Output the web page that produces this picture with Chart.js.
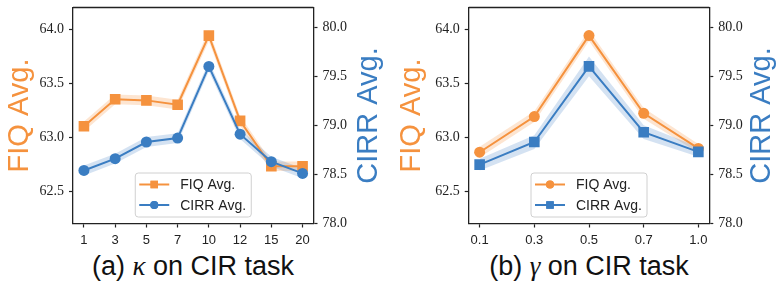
<!DOCTYPE html>
<html>
<head>
<meta charset="utf-8">
<script src="https://cdn.jsdelivr.net/npm/chart.js@4.4.0/dist/chart.umd.min.js"></script>
<style>
  body { margin: 0; background: #fff; width: 783px; height: 285px; overflow: hidden; position: relative; font-family: "Liberation Sans", Arial, sans-serif; }
  .wrap { position: absolute; top: 0; width: 391px; height: 250px; }
  #wrapA { left: 0; }
  #wrapB { left: 392px; }
  .cap { position: absolute; top: 251px; font-size: 27px; color: #111; white-space: nowrap; transform: translateX(-50%); }
  .cap i { font-family: "Liberation Serif", "DejaVu Serif", serif; }
</style>
</head>
<body>
<div class="wrap" id="wrapA"><canvas id="chartA" width="391" height="250"></canvas></div>
<div class="wrap" id="wrapB"><canvas id="chartB" width="391" height="250"></canvas></div>
<div class="cap" style="left:193px">(a) <i>κ</i> on CIR task</div>
<div class="cap" style="left:589px">(b) <i>γ</i> on CIR task</div>
<script>
// valores
const kappaLabels = ['1', '3', '5', '7', '10', '12', '15', '20'];
const kappaFiq = [63.10, 63.35, 63.34, 63.30, 63.94, 63.15, 62.73, 62.73];
const kappaFiqStd = [0.045, 0.045, 0.045, 0.045, 0.05, 0.045, 0.045, 0.045];
const kappaCirr = [78.54, 78.66, 78.83, 78.87, 79.60, 78.91, 78.63, 78.51];
const kappaCirrStd = [0.05, 0.05, 0.05, 0.05, 0.05, 0.05, 0.05, 0.05];

const gammaLabels = ['0.1', '0.3', '0.5', '0.7', '1.0'];
const gammaFiq = [62.86, 63.19, 63.94, 63.22, 62.895];
const gammaFiqStd = [0.05, 0.05, 0.05, 0.05, 0.04];
const gammaCirr = [78.60, 78.83, 79.60, 78.93, 78.73];
const gammaCirrStd = [0.06, 0.07, 0.10, 0.07, 0.05];

const fiqTicks = [62.5, 63.0, 63.5, 64.0];
const cirrTicks = [78.0, 78.5, 79.0, 79.5, 80.0];

const ORANGE = '#F5923E';
const BLUE = '#3A7DC2';
const ORANGE_BAND = 'rgba(245,146,62,0.24)';
const BLUE_BAND = 'rgba(58,125,194,0.22)';
const INK = '#222';

function pts(vals, off) {
  return vals.map((v, i) => ({ x: i, y: v + (off ? off[i] : 0) }));
}
function neg(arr) { return arr.map(v => -v); }

// marco superior, leyenda y titulo derecho
const extras = {
  id: 'extras',
  afterDraw(chart, args, o) {
    const { ctx, chartArea: a } = chart;
    ctx.save();
    ctx.strokeStyle = INK;
    ctx.lineWidth = 1.3;
    ctx.beginPath();
    ctx.moveTo(a.left, a.top);
    ctx.lineTo(a.right, a.top);
    ctx.stroke();

    // leyenda
    const bw = 116, bh = 44;
    const bx = (a.left + a.right) / 2 - bw / 2;
    const by = a.bottom - 6.5 - bh;
    ctx.fillStyle = 'rgba(255,255,255,0.85)';
    ctx.strokeStyle = '#d0d0d0';
    ctx.lineWidth = 1;
    ctx.beginPath();
    ctx.roundRect(bx, by, bw, bh, 3);
    ctx.fill();
    ctx.stroke();
    const rows = [
      { label: 'FIQ Avg.', color: ORANGE, style: o.fiqMarker, y: by + 11.5 },
      { label: 'CIRR Avg.', color: BLUE, style: o.cirrMarker, y: by + 32 }
    ];
    rows.forEach(r => {
      ctx.strokeStyle = r.color;
      ctx.lineWidth = 2;
      ctx.beginPath();
      ctx.moveTo(bx + 4, r.y);
      ctx.lineTo(bx + 34, r.y);
      ctx.stroke();
      ctx.fillStyle = r.color;
      Chart.helpers.drawPoint(ctx, { pointStyle: r.style, radius: r.style === 'rect' ? 5.3 : 4, borderWidth: 0 }, bx + 19, r.y);
      ctx.fill();
      ctx.fillStyle = INK;
      ctx.font = '14px "Liberation Sans", Arial, sans-serif';
      ctx.textBaseline = 'middle';
      ctx.textAlign = 'left';
      ctx.fillText(r.label, bx + 45, r.y + 1);
    });

    // titulo eje derecho (leido de abajo hacia arriba)
    ctx.fillStyle = BLUE;
    ctx.font = '29px "Liberation Sans", Arial, sans-serif';
    ctx.textAlign = 'center';
    ctx.textBaseline = 'middle';
    ctx.translate(o.rightTitleX, (a.top + a.bottom) / 2);
    ctx.rotate(-Math.PI / 2);
    ctx.fillText('CIRR Avg.', 0, 0);
    ctx.restore();
  }
};

function makeChart(id, labels, fiq, fiqStd, cirr, cirrStd, fiqMarker, cirrMarker, area) {
  const n = labels.length;
  const W = 391, H = 250;
  const grid = { drawOnChartArea: false, tickLength: 4, color: INK, tickWidth: 1.2 };
  const border = { color: INK, width: 1.3 };
  const noPad = s => { s.paddingTop = 0; s.paddingBottom = 0; s.paddingLeft = 0; s.paddingRight = 0; };
  return new Chart(document.getElementById(id), {
    type: 'line',
    data: {
      datasets: [
        { data: pts(cirr), yAxisID: 'y2', borderColor: BLUE, backgroundColor: BLUE, borderWidth: 2,
          pointStyle: cirrMarker, pointRadius: cirrMarker === 'rect' ? 7.5 : 5.5, pointBorderWidth: 0, order: 0, fill: false },
        { data: pts(fiq), yAxisID: 'y', borderColor: ORANGE, backgroundColor: ORANGE, borderWidth: 2,
          pointStyle: fiqMarker, pointRadius: fiqMarker === 'rect' ? 7.5 : 5.5, pointBorderWidth: 0, order: 1, fill: false },
        { data: pts(fiq, fiqStd), yAxisID: 'y', borderWidth: 0, pointRadius: 0, fill: '+1', backgroundColor: ORANGE_BAND, order: 3 },
        { data: pts(fiq, neg(fiqStd)), yAxisID: 'y', borderWidth: 0, pointRadius: 0, fill: false, order: 3 },
        { data: pts(cirr, cirrStd), yAxisID: 'y2', borderWidth: 0, pointRadius: 0, fill: '+1', backgroundColor: BLUE_BAND, order: 2 },
        { data: pts(cirr, neg(cirrStd)), yAxisID: 'y2', borderWidth: 0, pointRadius: 0, fill: false, order: 2 }
      ]
    },
    options: {
      responsive: false,
      animation: false,
      devicePixelRatio: 1,
      layout: { padding: { top: area.top, left: 0, right: 0, bottom: 0 } },
      plugins: {
        legend: { display: false },
        tooltip: { enabled: false },
        extras: { fiqMarker, cirrMarker, rightTitleX: area.rightTitleX }
      },
      scales: {
        x: {
          type: 'linear',
          min: -0.05 * (n - 1), max: 1.05 * (n - 1),
          afterBuildTicks: s => { s.ticks = labels.map((_, i) => ({ value: i })); },
          ticks: { callback: (v, i) => labels[i], font: { family: 'Liberation Sans', size: 13 }, color: INK, padding: 5, maxRotation: 0, autoSkip: false },
          grid, border,
          afterFit: s => { s.height = H - area.bottom; noPad(s); }
        },
        y: {
          position: 'left',
          min: 62.2, max: 64.2,
          afterBuildTicks: s => { s.ticks = fiqTicks.map(v => ({ value: v })); },
          ticks: { callback: v => v.toFixed(1), font: { family: 'Liberation Serif', size: 14 }, color: INK, padding: 5 },
          grid, border,
          title: { display: true, text: 'FIQ Avg.', color: ORANGE, font: { family: 'Liberation Sans', size: 29 }, padding: { top: 3, bottom: 0 } },
          afterFit: s => { s.width = area.left; noPad(s); }
        },
        y2: {
          position: 'right',
          min: 78.0, max: 80.2,
          afterBuildTicks: s => { s.ticks = cirrTicks.map(v => ({ value: v })); },
          ticks: { callback: v => v.toFixed(1), font: { family: 'Liberation Serif', size: 14 }, color: INK, padding: 5 },
          grid, border,
          afterFit: s => { s.width = W - area.right; noPad(s); }
        }
      }
    },
    plugins: [extras]
  });
}

makeChart('chartA', kappaLabels, kappaFiq, kappaFiqStd, kappaCirr, kappaCirrStd, 'rect', 'circle',
  { top: 6, bottom: 223.5, left: 73, right: 313.5, rightTitleX: 369 });
makeChart('chartB', gammaLabels, gammaFiq, gammaFiqStd, gammaCirr, gammaCirrStd, 'circle', 'rect',
  { top: 6, bottom: 223.5, left: 76.7, right: 317.3, rightTitleX: 370 });
</script>
</body>
</html>
